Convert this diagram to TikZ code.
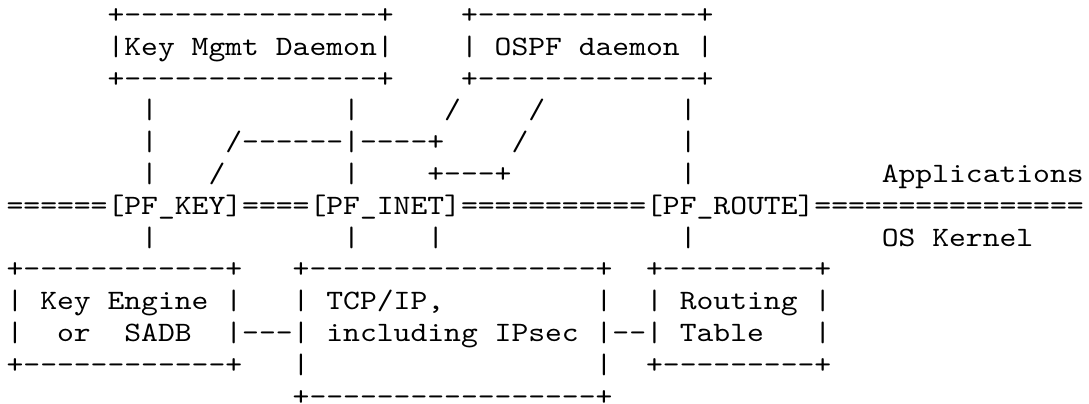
\documentclass[tikz,border=0pt]{standalone}
\usepackage{fontspec}
\newfontfamily\asc{lmmono10-regular.otf}[FakeStretch=1.142857]
\begin{document}
\begin{tikzpicture}[x=16.83pt,y=-31.8pt,
  ch/.style={anchor=base west,inner sep=0pt,outer sep=0pt,text=black,
    font=\asc\fontsize{28.05pt}{31.8pt}\selectfont}]
\fill[white] (0pt,0pt) rectangle (1089pt,-404pt);
\useasboundingbox (0pt,0pt) rectangle (1089pt,-404pt);
\begin{scope}[shift={(6.6pt,-23.5pt)}]
% line 1-3: daemons
\node[ch] (kmtop)   at (6,0)  {+---------------+};
\node[ch] (ospftop) at (27,0) {+-------------+};
\node[ch] (kmd)     at (6,1)  {|Key Mgmt Daemon|};
\node[ch] (ospf)    at (27,1) {| OSPF daemon |};
\node[ch] (kmbot)   at (6,2)  {+---------------+};
\node[ch] (ospfbot) at (27,2) {+-------------+};
% line 4
\node[ch] (a1) at (8,3)  {|};
\node[ch] (a2) at (20,3) {|};
\node[ch] (a3) at (26,3) {/};
\node[ch] (a4) at (31,3) {/};
\node[ch] (a5) at (40,3) {|};
% line 5
\node[ch] (b1) at (8,4)  {|};
\node[ch] (b2) at (13,4) {/------|----+};
\node[ch] (b3) at (30,4) {/};
\node[ch] (b4) at (40,4) {|};
% line 6
\node[ch] (c1) at (8,5)  {|};
\node[ch] (c2) at (12,5) {/};
\node[ch] (c3) at (20,5) {|};
\node[ch] (c4) at (25,5) {+---+};
\node[ch] (c5) at (40,5) {|};
\node[ch] (apps) at (52,5) {Applications};
% line 7: boundary
\node[ch] (bar1)    at (0,6)  {======};
\node[ch] (pfkey)   at (6,6)  {[PF\_KEY]};
\node[ch] (bar2)    at (14,6) {====};
\node[ch] (pfinet)  at (18,6) {[PF\_INET]};
\node[ch] (bar3)    at (27,6) {===========};
\node[ch] (pfroute) at (38,6) {[PF\_ROUTE]};
\node[ch] (bar4)    at (48,6) {================};
% line 8
\node[ch] (d1) at (8,7)  {|};
\node[ch] (d2) at (20,7) {|};
\node[ch] (d3) at (25,7) {|};
\node[ch] (d4) at (40,7) {|};
\node[ch] (kernel) at (52,7) {OS Kernel};
% line 9-13: kernel boxes
\node[ch] (ketop)  at (0,8)  {+------------+};
\node[ch] (tcptop) at (17,8) {+-----------------+};
\node[ch] (rttop)  at (38,8) {+---------+};
\node[ch] (ke1)    at (0,9)  {| Key Engine |};
\node[ch] (tcp1)   at (17,9) {| TCP/IP,};
\node[ch] (tcp1r)  at (35,9) {|};
\node[ch] (rt1)    at (38,9) {| Routing |};
\node[ch] (ke2l)   at (0,10)  {|};
\node[ch] (ke2a)   at (3,10)  {or};
\node[ch] (ke2b)   at (7,10)  {SADB};
\node[ch] (ke2r)   at (13,10) {|};
\node[ch] (link1)  at (14,10) {---};
\node[ch] (tcp2)   at (17,10) {| including IPsec |};
\node[ch] (link2)  at (36,10) {--};
\node[ch] (rt2)    at (38,10) {| Table};
\node[ch] (rt2r)   at (48,10) {|};
\node[ch] (kebot)  at (0,11)  {+------------+};
\node[ch] (tcp3l)  at (17,11) {|};
\node[ch] (tcp3r)  at (35,11) {|};
\node[ch] (rtbot)  at (38,11) {+---------+};
\node[ch,text depth=0pt] (tcpbot) at (17,12) {+-----------------+};
\end{scope}
\end{tikzpicture}
\end{document}
